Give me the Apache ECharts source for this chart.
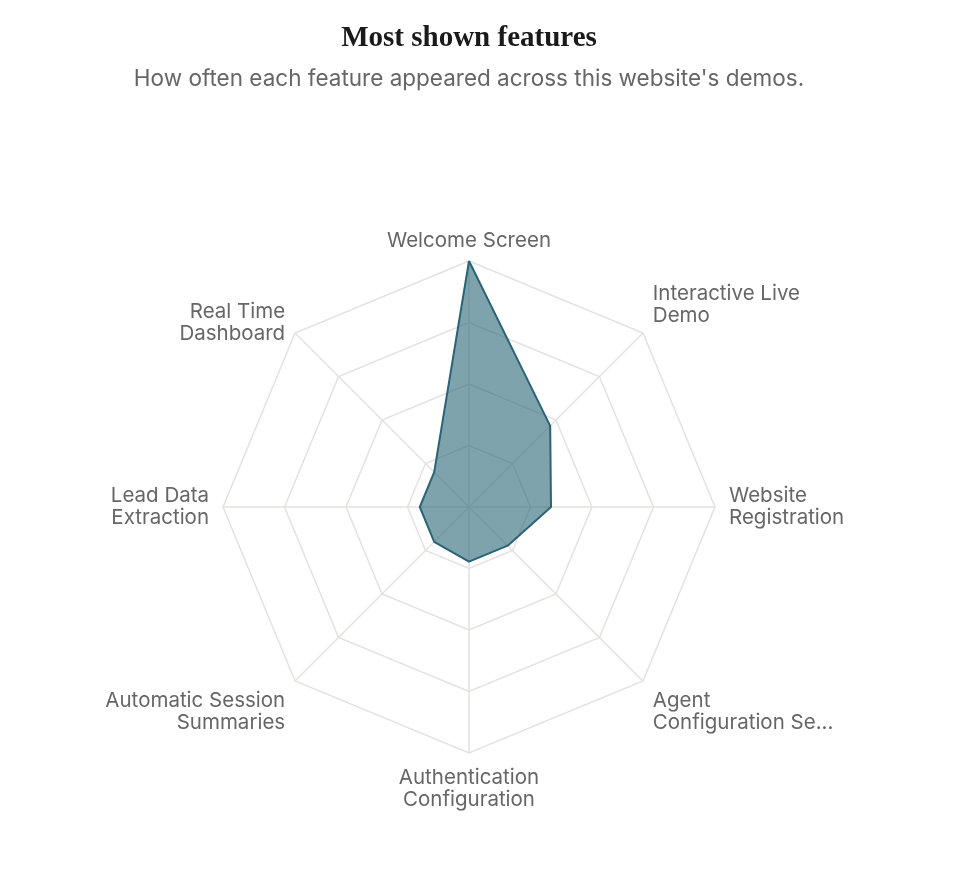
<!DOCTYPE html>
<html>
<head>
<meta charset="utf-8">
<title>Most shown features</title>
<script src="https://cdn.jsdelivr.net/npm/echarts@6/dist/echarts.min.js"></script>
<style>
    html, body { margin: 0; padding: 0; background: #ffffff; }
    #chart { width: 958px; height: 874px; }
</style>
</head>
<body>
<div id="chart"></div>
<script>
// Indicadores en orden antihorario empezando arriba (así los coloca ECharts)
const featureNames = [
    'Welcome Screen',
    'Real Time\nDashboard',
    'Lead Data\nExtraction',
    'Automatic Session\nSummaries',
    'Authentication\nConfiguration',
    'Agent\nConfiguration Se...',
    'Website\nRegistration',
    'Interactive Live\nDemo'
];
const featureCounts = [45, 9, 9, 9, 10, 10, 15, 21];
const maxCount = 45;

// Etiquetas diagonales que van por encima / por debajo de su vértice
const namesAbove = ['Interactive Live\nDemo'];
const namesBelow = ['Automatic Session\nSummaries', 'Agent\nConfiguration Se...'];

const chart = echarts.init(document.getElementById('chart'));

const option = {
    backgroundColor: '#ffffff',
    title: [
        {
            text: 'Most shown features',
            left: 464,
            top: 19,
            textAlign: 'center',
            textStyle: {
                fontFamily: 'Liberation Serif',
                fontWeight: 'bold',
                fontSize: 29,
                color: '#1a1a1a'
            }
        },
        {
            text: "How often each feature appeared across this website's demos.",
            left: 464,
            top: 63,
            textAlign: 'center',
            textStyle: {
                fontFamily: 'Inter',
                fontWeight: 'normal',
                fontSize: 22.5,
                color: '#666666'
            }
        }
    ],
    radar: {
        center: [469, 507],
        radius: 246,
        splitNumber: 4,
        shape: 'polygon',
        indicator: featureNames.map(name => ({ name: name, max: maxCount })),
        axisName: {
            color: '#666666',
            fontFamily: 'Inter',
            fontSize: 20.5,
            lineHeight: 22,
            formatter: function(name) {
                if (name === featureNames[0]) {
                    return '{top|' + name + '}';
                }
                if (namesAbove.indexOf(name) >= 0) {
                    return name + '\n{up| }';
                }
                if (namesBelow.indexOf(name) >= 0) {
                    return '{down| }\n' + name;
                }
                return name;
            },
            rich: {
                top: { lineHeight: 13, fontSize: 20.5, fontFamily: 'Inter', color: '#666666' },
                up: { lineHeight: 37, fontSize: 10 },
                down: { lineHeight: 41, fontSize: 10 }
            }
        },
        nameGap: 14,
        splitLine: {
            lineStyle: { color: '#e4e2e0', width: 1.5 }
        },
        splitArea: { show: false },
        axisLine: {
            lineStyle: { color: '#e4e2e0', width: 1.5 }
        }
    },
    series: [
        {
            type: 'radar',
            symbol: 'none',
            data: [
                {
                    value: featureCounts,
                    lineStyle: { color: '#2a6478', width: 2 },
                    areaStyle: { color: '#2a6675', opacity: 0.6 }
                }
            ]
        }
    ]
};

chart.setOption(option);

window.addEventListener('resize', function() {
    chart.resize();
});
</script>
</body>
</html>
